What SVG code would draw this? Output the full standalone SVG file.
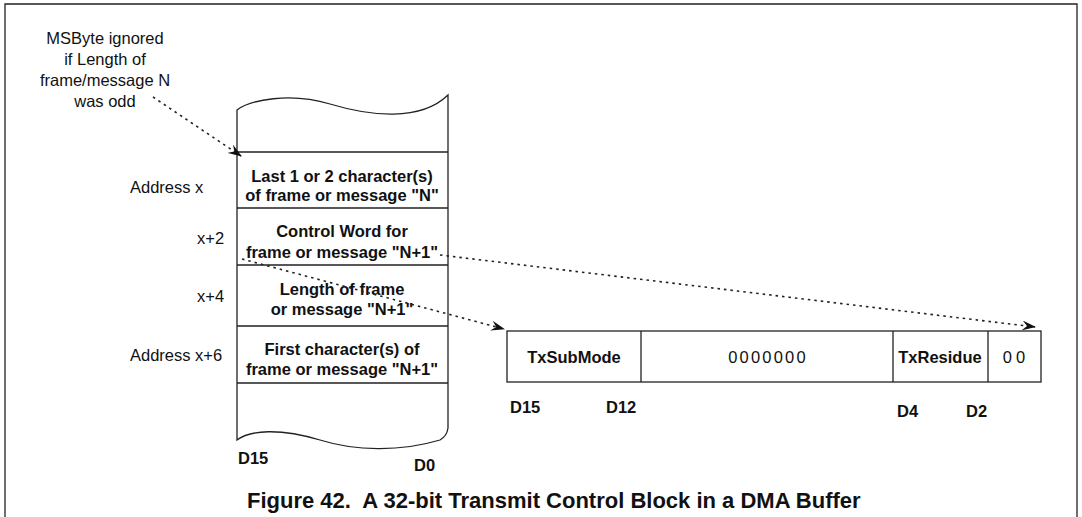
<svg xmlns="http://www.w3.org/2000/svg" width="1082" height="517" viewBox="0 0 1082 517">
<style>
.ln{fill:none;stroke:#222;stroke-width:1.3}
.t{font-family:"Liberation Sans",Arial,sans-serif;fill:#111}
.b{font-weight:bold;font-size:16.5px}
.n{font-size:16.5px}
.c{text-anchor:middle}
.dash{fill:none;stroke:#222;stroke-width:1.6;stroke-dasharray:2.5,4}
</style>
<defs>
<marker id="ah" markerWidth="14" markerHeight="10" refX="13" refY="5" orient="auto" markerUnits="userSpaceOnUse">
<path d="M0,0 L14,5 L0,10 L5,5 z" fill="#111"/>
</marker>
</defs>
<rect width="1082" height="517" fill="#fff"/>
<g id="frame">
<path class="ln" d="M5,517 V4 H1077 V517"/>
</g>
<g id="note">
<text class="t n c" x="105" y="44">MSByte ignored</text>
<text class="t n c" x="105" y="65">if Length of</text>
<text class="t n c" x="105" y="86">frame/message N</text>
<text class="t n c" x="105" y="107">was odd</text>
</g>
<g id="addresses">
<text class="t n" x="130" y="193">Address x</text>
<text class="t n" x="197" y="244">x+2</text>
<text class="t n" x="197" y="302">x+4</text>
<text class="t n" x="130" y="361">Address x+6</text>
</g>
<g id="buffer">
<path class="ln" d="M237,440 V110 C250,100 290,92 330,104 C370,116 420,122 448,95 V428 Q447,436 440,440 C400,452 355,451 320,440 C280,428 250,430 237,440 Z"/>
<path class="ln" d="M237,152 H448 M237,208 H448 M237,265 H448 M237,326 H448 M237,383 H448"/>
<text class="t b c" x="342" y="182">Last 1 or 2 character(s)</text>
<text class="t b c" x="342" y="201">of frame or message "N"</text>
<text class="t b c" x="342" y="237">Control Word for</text>
<text class="t b c" x="342" y="258">frame or message "N+1"</text>
<text class="t b c" x="342" y="295">Length of frame</text>
<text class="t b c" x="342" y="315">or message "N+1"</text>
<text class="t b c" x="342" y="355">First character(s) of</text>
<text class="t b c" x="342" y="375">frame or message "N+1"</text>
<text class="t b" x="238" y="464">D15</text>
<text class="t b" x="414" y="471">D0</text>
</g>
<g id="register">
<rect class="ln" x="507" y="331" width="534" height="51"/>
<path class="ln" d="M641,331 V382 M893,331 V382 M988,331 V382"/>
<text class="t b c" x="574" y="363">TxSubMode</text>
<text class="t n c" x="768" y="363" letter-spacing="2.2">0000000</text>
<text class="t b c" x="940" y="363">TxResidue</text>
<text class="t n c" x="1016" y="363" letter-spacing="4">00</text>
<text class="t b" x="510" y="413">D15</text>
<text class="t b" x="606" y="413">D12</text>
<text class="t b" x="897" y="417">D4</text>
<text class="t b" x="966" y="417">D2</text>
</g>
<g id="connectors">
<path class="dash" d="M153,97 L241,156" marker-end="url(#ah)"/>
<path class="dash" d="M242,259 L504,329" marker-end="url(#ah)"/>
<path class="dash" d="M440,255 L1035,327" marker-end="url(#ah)"/>
</g>
<g id="caption">
<text class="t" x="247" y="508" font-weight="bold" font-size="22" xml:space="preserve">Figure 42.  A 32-bit Transmit Control Block in a DMA Buffer</text>
</g>
</svg>
